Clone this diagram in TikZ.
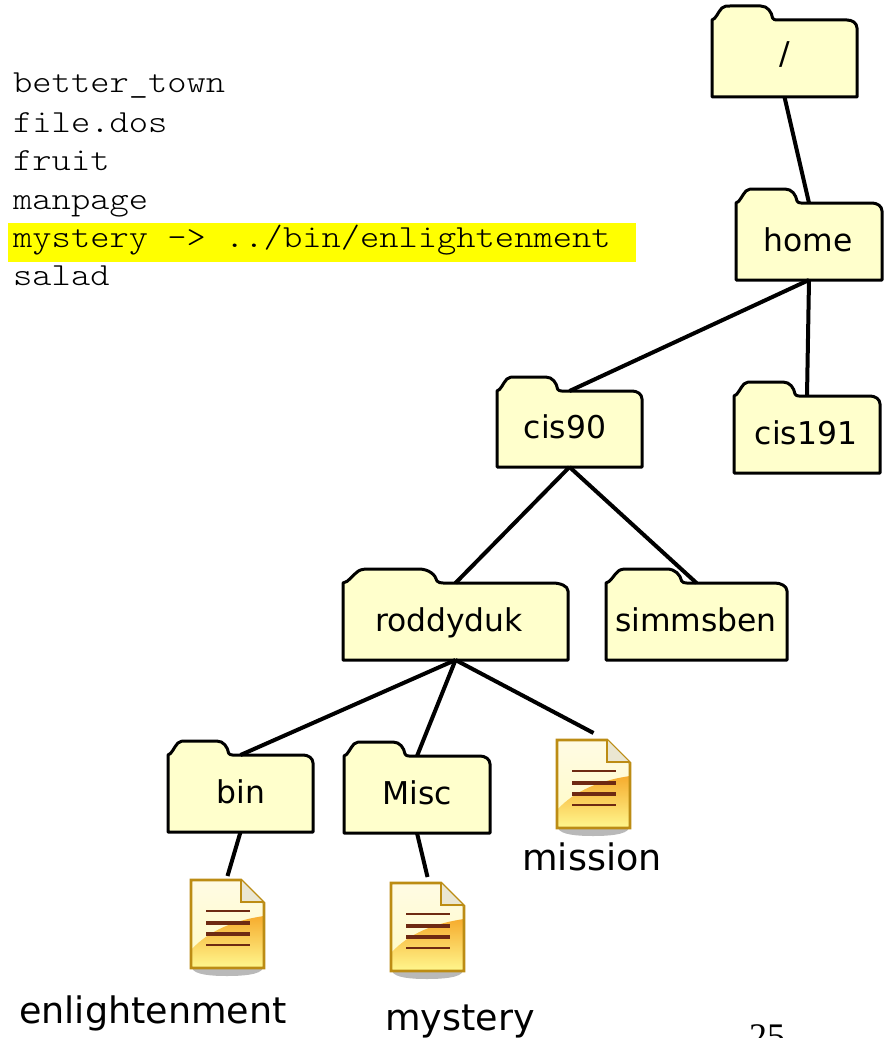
\documentclass[tikz,border=0pt]{standalone}
\usepackage{fontspec}
\setmainfont{DejaVu Sans}
\setmonofont[FakeStretch=1.14]{Latin Modern Mono Light}
\newfontfamily\numfont{Liberation Serif}
\definecolor{folderfill}{HTML}{FFFFCC}
\definecolor{hilite}{HTML}{FFFF00}
\definecolor{docedge}{HTML}{BC8C14}
\definecolor{docline}{HTML}{6E2A12}
\definecolor{doctop}{HTML}{FFFBE4}
\definecolor{docbot}{HTML}{FFFBC4}
\definecolor{swooshtop}{HTML}{F6AC2E}
\definecolor{swooshmid}{HTML}{FFDC66}
\definecolor{swooshbot}{HTML}{FFF78E}
\definecolor{docfold}{HTML}{EAE6D2}
\definecolor{docshadow}{HTML}{B9B9B9}
\tikzset{
  folderline/.style={draw=black,line width=3pt,fill=folderfill,line join=round},
  folderbody/.style={rectangle,inner sep=0pt,outer sep=0pt},
  folderlabel/.style={anchor=base,inner sep=0pt,font=\fontsize{31.4}{36}\selectfont,text=black},
  doclabel/.style={anchor=base,inner sep=0pt,font=\fontsize{36.5}{42}\selectfont,text=black},
  listing/.style={anchor=base west,inner sep=0pt,font=\ttfamily\fontsize{32.2}{38}\selectfont,text=black},
  link/.style={draw=black,line width=4pt},
}
% #1 name, #2 left, #3 tab top, #4 right, #5 bottom
\newcommand\folderbox[5]{%
  \begin{scope}[shift={(#2,#3+14)},xscale={(#4-#2)/146}]
    \path[folderline] (0,0) .. controls (4,-1) and (6,-8) .. (10,-12)
      .. controls (12,-14) and (15,-14) .. (18,-14) -- (49,-14)
      .. controls (56,-14) and (60,-8) .. (61,-2) .. controls (62,-0.5) and (63,0) .. (65,0)
      -- (136,0) .. controls (141,0) and (146,3) .. (146,8) -- (146,{#5-#3-14}) -- (0,{#5-#3-14}) -- cycle;
  \end{scope}
  \path ({(#2+#4)/2},{(#3+14+#5)/2}) node[folderbody,minimum width={(#4-#2)*1pt},minimum height={(#5-#3-14)*1pt}] (#1) {};%
}
% #1 name, #2 left, #3 top
\newcommand\docicon[3]{%
  \begin{scope}[shift={(#2,#3)}]
    \fill[docshadow] (1,88) -- (72,88) .. controls (70,95) and (50,96) .. (36,96) .. controls (22,96) and (3,95) .. (1,88) -- cycle;
    \shade[top color=doctop,bottom color=docbot] (0,0) -- (50,0) -- (73,23) -- (73,88) -- (0,88) -- cycle;
    \begin{scope}
      \clip (0,0) -- (50,0) -- (73,23) -- (73,88) -- (0,88) -- cycle;
      \shade[top color=swooshtop,middle color=swooshmid,bottom color=swooshbot] (0,70) .. controls (18,50) and (45,40) .. (73,36) -- (73,88) -- (0,88) -- cycle;
    \end{scope}
    \draw[docedge,line width=2.8pt,line join=miter] (0,0) -- (50,0) -- (73,23) -- (73,88) -- (0,88) -- cycle;
    \fill[docfold] (50,0) -- (73,23) -- (50,23) -- cycle;
    \draw[docedge,line width=2.4pt] (50,0) -- (50,22) -- (73,22);
    \draw[docline,line width=2.2pt] (15,31) -- (59,31);
    \draw[docline,line width=3.4pt] (15,43) -- (59,43);
    \draw[docline,line width=3.4pt] (15,54) -- (59,54);
    \draw[docline,line width=2.4pt] (15,65) -- (59,65);
  \end{scope}
  \path ({#2+36.5},{#3+44}) node[folderbody,minimum width=73pt,minimum height=88pt] (#1) {};%
}
\begin{document}
\begin{tikzpicture}[x=1pt,y=-1pt]
  \useasboundingbox (0,0) rectangle (888,1038);
  \fill[white] (0,0) rectangle (888,1038);

  \fill[hilite] (8,223) rectangle (636,262);
  \node[listing] (l1) at (13,93) {better\_town};
  \node[listing] (l2) at (13,132) {file.dos};
  \node[listing] (l3) at (13,170) {fruit};
  \node[listing] (l4) at (13,209) {manpage};
  \node[listing] (l5) at (13,247) {mystery -> ../bin/enlightenment};
  \node[listing] (l6) at (13,285) {salad};

  \folderbox{root}{712}{6}{857}{97}
  \folderbox{home}{736}{189}{882}{280}
  \folderbox{cisninety}{497}{377}{642}{467}
  \folderbox{cisoneninetyone}{734}{382}{880}{473}
  \folderbox{roddyduk}{343}{569}{568}{660}
  \folderbox{simmsben}{606}{569}{787}{660}
  \folderbox{bin}{168}{741}{313}{832}
  \folderbox{misc}{344}{742}{490}{833}
  \docicon{missiondoc}{557}{740}
  \docicon{enlightendoc}{191}{880}
  \docicon{mysterydoc}{391}{883}

  \node[folderlabel] (t1) at (785,65) {/};
  \node[folderlabel] (t2) at (808,251) {home};
  \node[folderlabel] (t3) at (565,438) {cis90};
  \node[folderlabel] (t4) at (806,444) {cis191};
  \node[folderlabel] (t5) at (449,631) {roddyduk};
  \node[folderlabel] (t6) at (696,631) {simmsben};
  \node[folderlabel] (t7) at (241,803) {bin};
  \node[folderlabel] (t8) at (417,804) {Misc};
  \node[doclabel] (t9) at (592,870) {mission};
  \node[doclabel] (t10) at (153,1023) {enlightenment};
  \node[doclabel] (t11) at (460,1030) {mystery};
  \node[anchor=base,inner sep=0pt,font=\numfont\fontsize{36}{40}\selectfont] (page) at (767,1048) {25};

  \draw[link] (root.south) -- (home.north);
  \draw[link] (home.south) -- (cisninety.north);
  \draw[link] (home.south) -- (cisoneninetyone.north);
  \draw[link] (cisninety.south) -- (roddyduk.north);
  \draw[link] (cisninety.south) -- (simmsben.north);
  \draw[link] (roddyduk.south) -- (bin.north);
  \draw[link] (roddyduk.south) -- (misc.north);
  \draw[link] (roddyduk.south) -- ([yshift=7pt]missiondoc.north);
  \draw[link] (bin.south) -- ([yshift=4pt]enlightendoc.north);
  \draw[link] (misc.south) -- ([yshift=6pt]mysterydoc.north);
\end{tikzpicture}
\end{document}
